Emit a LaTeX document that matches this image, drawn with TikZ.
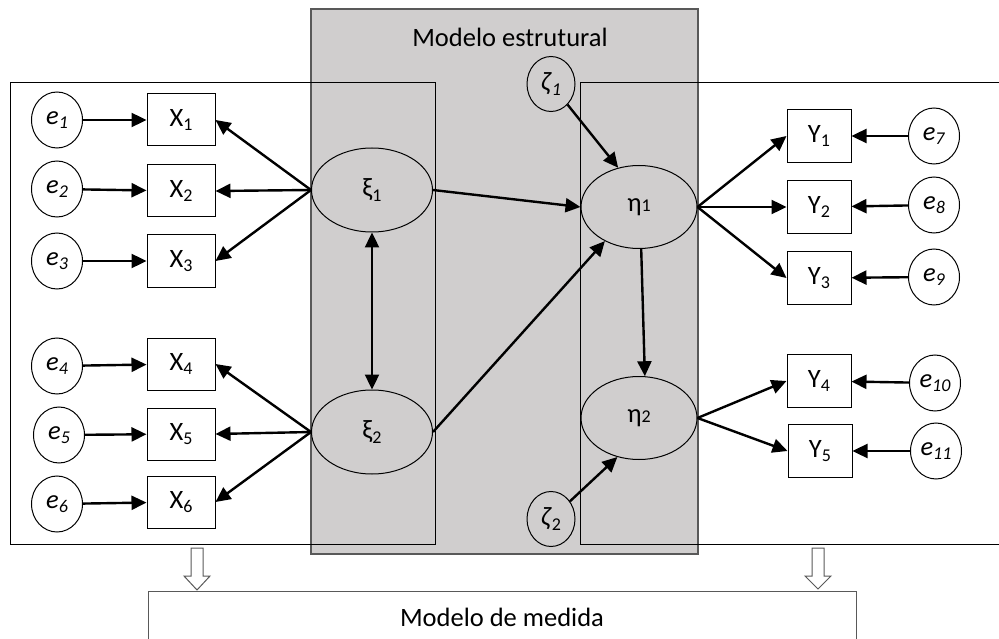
\documentclass[tikz,border=0pt]{standalone}
\usepackage{fontspec}
\setmainfont{Carlito}
\usetikzlibrary{arrows.meta,shapes.geometric}
\definecolor{panel}{HTML}{D0CECE}
\definecolor{frame}{HTML}{595959}
% lowered small index
\newcommand\sbs[1]{\raisebox{-0.35ex}{\fontsize{18}{18}\selectfont #1}}
% small index on the baseline
\newcommand\idx[1]{{\fontsize{18}{18}\selectfont #1}}

\begin{document}
\begin{tikzpicture}[x=1pt,y=-1pt,
  every node/.style={font=\fontsize{26.5}{30}\selectfont},
  errc/.style={ellipse, draw, line width=1pt, fill=white,
    minimum width=51pt, minimum height=56pt, inner sep=0pt},
  obs/.style={rectangle, draw, line width=1pt, fill=white,
    minimum width=68pt, minimum height=52pt, inner sep=0pt},
  obsy/.style={obs, minimum width=64pt, minimum height=53pt},
  lat/.style={ellipse, draw, line width=1pt, fill=panel,
    minimum width=121pt, minimum height=84pt, inner sep=0pt},
  dist/.style={ellipse, draw, line width=1pt, fill=panel,
    minimum width=48pt, minimum height=55pt, inner sep=0pt},
  arr/.style={line width=2.4pt, -{Triangle[length=15pt,width=14pt]}},
  darr/.style={line width=2.4pt, {Triangle[length=15pt,width=14pt]}-{Triangle[length=15pt,width=14pt]}},
  hollow/.style={draw=frame, line width=1pt, fill=white},
  ]
\useasboundingbox (0,0) rectangle (999,639);

% structural panel
\draw[frame, line width=1.3pt, fill=panel] (311,9) rectangle (698,554);
\node (tstruct) at (510,37) {Modelo estrutural};

% measurement frames
\draw[line width=1pt] (10,83) rectangle (435,544);
\draw[line width=1pt] (1001,83) -| (580,544) -- (1001,544);
\draw[frame, line width=1pt] (148,641) |- (856,591) -- (856,641);
\node (tmeas) at (502,617) {Modelo de medida};

% hollow pointers
\draw[hollow] (191,548) -- (203,548) -- (203,576) -- (210,576) -- (197,590)
  -- (184,576) -- (191,576) -- cycle;
\draw[hollow] (812,548) -- (824,548) -- (824,576) -- (831,576) -- (818,589)
  -- (805,576) -- (812,576) -- cycle;

% error terms, exogenous side
\node[errc] (e1) at (57,120) {\textit{e}\sbs{\textit{1}}};
\node[errc] (e2) at (57,189) {\textit{e}\sbs{\textit{2}}};
\node[errc] (e3) at (57,261) {\textit{e}\sbs{\textit{3}}};
\node[errc] (e4) at (57,366) {\textit{e}\sbs{\textit{4}}};
\node[errc] (e5) at (59,435) {\textit{e}\sbs{\textit{5}}};
\node[errc] (e6) at (57,504) {\textit{e}\sbs{\textit{6}}};

% indicators X
\node[obs] (X1) at (181,120) {X\sbs{1}};
\node[obs] (X2) at (181,191) {X\sbs{2}};
\node[obs] (X3) at (181,261) {X\sbs{3}};
\node[obs] (X4) at (181,364) {X\sbs{4}};
\node[obs] (X5) at (181,434) {X\sbs{5}};
\node[obs] (X6) at (181,502) {X\sbs{6}};

% latent variables
\node[lat] (xi1) at (372,190) {ξ\sbs{1}};
\node[lat] (xi2) at (372,432) {ξ\sbs{2}};
\node[lat, minimum width=116pt, minimum height=83pt] (eta1) at (639,207) {η\idx{1}};
\node[lat, minimum width=116pt, minimum height=83pt] (eta2) at (639,418) {η\idx{2}};

% disturbances
\node[dist] (zeta1) at (551,84) {\textit{ζ}\sbs{\textit{1}}};
\node[dist] (zeta2) at (551,519) {\textit{ζ}\sbs{2}};

% indicators Y
\node[obsy] (Y1) at (819,136) {Y\sbs{1}};
\node[obsy] (Y2) at (819,207) {Y\sbs{2}};
\node[obsy] (Y3) at (819,278) {Y\sbs{3}};
\node[obsy] (Y4) at (819,381) {Y\sbs{4}};
\node[obsy] (Y5) at (820,451) {Y\sbs{5}};

% error terms, endogenous side
\node[errc] (e7) at (934,136) {\textit{e}\sbs{\textit{7}}};
\node[errc] (e8) at (934,205) {\textit{e}\sbs{\textit{8}}};
\node[errc] (e9) at (934,277) {\textit{e}\sbs{\textit{9}}};
\node[errc] (e10) at (935,383) {\textit{e}\sbs{\textit{10}}};
\node[errc] (e11) at (936,451) {\textit{e}\sbs{\textit{11}}};

% measurement errors
\foreach \i in {1,...,6} \draw[arr] (e\i) -- (X\i);
\draw[arr] (e7) -- (Y1);
\draw[arr] (e8) -- (Y2);
\draw[arr] (e9) -- (Y3);
\draw[arr] (e10) -- (Y4);
\draw[arr] (e11) -- (Y5);

% loadings
\foreach \i in {1,2,3} \draw[arr] (xi1.west) -- (X\i.east);
\foreach \i in {4,5,6} \draw[arr] (xi2.west) -- (X\i.east);
\foreach \i in {1,2,3} \draw[arr] (eta1.east) -- (Y\i.west);
\foreach \i in {4,5} \draw[arr] (eta2.east) -- (Y\i.west);

% structural paths
\draw[darr] (xi1) -- (xi2);
\draw[arr] (xi1.east) -- (eta1.west);
\draw[arr] (xi2.east) -- (eta1.-135);
\draw[arr] (zeta1) -- (eta1.118);
\draw[arr] (eta1.-87) -- (eta2.82);
\draw[arr] (zeta2) -- (eta2.-119);
\end{tikzpicture}
\end{document}
